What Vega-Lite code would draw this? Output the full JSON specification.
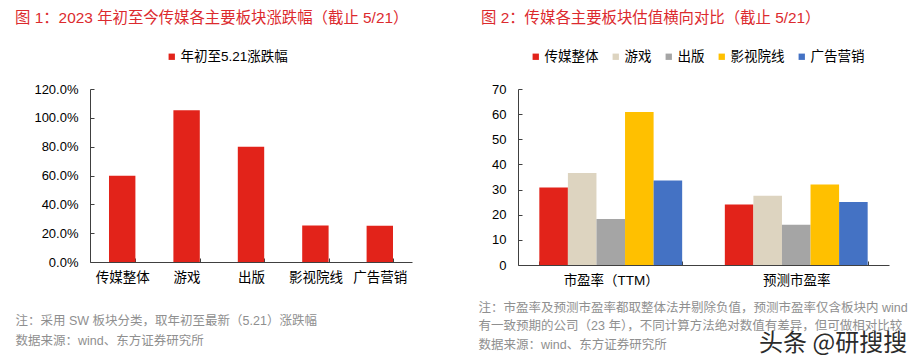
{
  "$schema": "https://vega.github.io/schema/vega-lite/v6.json",
  "background": "white",
  "padding": {"left": 15, "top": 10, "right": 10, "bottom": 5},
  "bounds": "flush",
  "spacing": 106,
  "resolve": {"scale": {"color": "independent"}, "legend": {"color": "independent"}},
  "title": {"text": "头条 @研搜搜", "orient": "bottom", "anchor": "end", "fontSize": 24, "color": "#2b2b2b", "fontWeight": "normal", "font": "Noto Sans CJK SC", "offset": 0, "dy": -19},
  "config": {
    "view": {"stroke": null},
    "font": "Liberation Sans, Noto Sans CJK SC",
    "axis": {"grid": false, "domainColor": "#404040", "tickColor": "#404040", "labelColor": "#000000", "labelFont": "Liberation Sans, Noto Sans CJK SC", "titleFont": "Liberation Sans, Noto Sans CJK SC"},
    "legend": {"orient": "none", "direction": "horizontal", "gridAlign": "none", "symbolType": "square", "symbolSize": 40, "labelFontSize": 13.5, "labelFont": "Liberation Sans, Noto Sans CJK SC", "labelColor": "#000000", "columnPadding": 10, "labelOffset": 2, "padding": 0, "title": null}
  },
  "hconcat": [
    {
      "width": 322,
      "height": 173,
      "title": {"text": "图 1：2023 年初至今传媒各主要板块涨跌幅（截止 5/21）", "anchor": "start", "frame": "group", "dx": -75, "color": "#DC2A2E", "fontSize": 15.4, "fontWeight": "normal", "font": "Liberation Sans, Noto Sans CJK SC", "offset": 24},
      "data": {"values": [
        {"sector": "传媒整体", "series": "年初至5.21涨跌幅", "change": 0.598},
        {"sector": "游戏", "series": "年初至5.21涨跌幅", "change": 1.053},
        {"sector": "出版", "series": "年初至5.21涨跌幅", "change": 0.800},
        {"sector": "影视院线", "series": "年初至5.21涨跌幅", "change": 0.253},
        {"sector": "广告营销", "series": "年初至5.21涨跌幅", "change": 0.251}
      ]},
      "mark": {"type": "bar"},
      "encoding": {
        "x": {"field": "sector", "type": "nominal", "sort": null,
          "scale": {"paddingInner": 0.59, "paddingOuter": 0.295},
          "axis": {"labelAngle": 0, "labelFontSize": 13.5, "tickBand": "extent", "tickSize": -4, "labelPadding": 12,
            "title": ["注：采用 SW 板块分类，取年初至最新（5.21）涨跌幅", "数据来源：wind、东方证券研究所"],
            "titleColor": "#8F8F8F", "titleFontSize": 12.5, "titleFontWeight": "normal", "titleAlign": "left", "titleBaseline": "middle", "titleX": -75, "titleY": 58, "titleLineHeight": 20}},
        "y": {"field": "change", "type": "quantitative",
          "scale": {"domain": [0, 1.2]},
          "axis": {"format": ".1%", "values": [0, 0.2, 0.4, 0.6, 0.8, 1.0, 1.2], "labelFontSize": 13, "tickSize": -4, "labelPadding": 16, "title": null}},
        "color": {"field": "series", "type": "nominal", "scale": {"range": ["#E2231A"]},
          "legend": {"legendX": 75, "legendY": -39}}
      }
    },
    {
      "width": 371,
      "height": 176,
      "title": {"text": "图 2：传媒各主要板块估值横向对比（截止 5/21）", "anchor": "start", "frame": "group", "dx": -37, "color": "#DC2A2E", "fontSize": 15.4, "fontWeight": "normal", "font": "Liberation Sans, Noto Sans CJK SC", "offset": 24},
      "data": {"values": [
        {"metric": "市盈率（TTM）", "sector": "传媒整体", "pe": 30.8},
        {"metric": "市盈率（TTM）", "sector": "游戏", "pe": 36.6},
        {"metric": "市盈率（TTM）", "sector": "出版", "pe": 18.3},
        {"metric": "市盈率（TTM）", "sector": "影视院线", "pe": 60.9},
        {"metric": "市盈率（TTM）", "sector": "广告营销", "pe": 33.6},
        {"metric": "预测市盈率", "sector": "传媒整体", "pe": 24.1},
        {"metric": "预测市盈率", "sector": "游戏", "pe": 27.5},
        {"metric": "预测市盈率", "sector": "出版", "pe": 16.0},
        {"metric": "预测市盈率", "sector": "影视院线", "pe": 32.0},
        {"metric": "预测市盈率", "sector": "广告营销", "pe": 25.1}
      ]},
      "mark": {"type": "bar"},
      "encoding": {
        "x": {"field": "metric", "type": "nominal", "sort": ["市盈率（TTM）", "预测市盈率"],
          "scale": {"paddingInner": 0.23, "paddingOuter": 0.115},
          "axis": {"labelAngle": 0, "labelFontSize": 13.5, "tickBand": "extent", "tickSize": -4, "labelPadding": 12,
            "title": ["注：市盈率及预测市盈率都取整体法并剔除负值，预测市盈率仅含板块内 wind", "有一致预期的公司（23 年），不同计算方法绝对数值有差异，但可做相对比较", "数据来源：wind、东方证券研究所"],
            "titleColor": "#8F8F8F", "titleFontSize": 12.5, "titleFontWeight": "normal", "titleAlign": "left", "titleBaseline": "middle", "titleX": -40, "titleY": 42, "titleLineHeight": 18.5}},
        "xOffset": {"field": "sector", "type": "nominal", "sort": ["传媒整体", "游戏", "出版", "影视院线", "广告营销"], "scale": {"paddingInner": 0, "paddingOuter": 0}},
        "y": {"field": "pe", "type": "quantitative",
          "scale": {"domain": [0, 70]},
          "axis": {"values": [0, 10, 20, 30, 40, 50, 60, 70], "labelFontSize": 13, "tickSize": -4, "labelPadding": 16, "title": null}},
        "color": {"field": "sector", "type": "nominal",
          "scale": {"domain": ["传媒整体", "游戏", "出版", "影视院线", "广告营销"], "range": ["#E2231A", "#DDD4C0", "#A5A5A5", "#FFC000", "#4472C4"]},
          "legend": {"legendX": 11, "legendY": -39}}
      }
    }
  ]
}
